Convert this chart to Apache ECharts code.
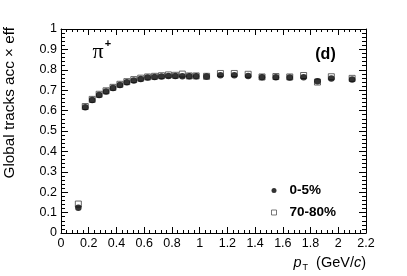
<!DOCTYPE html>
<html>
<head>
<meta charset="utf-8">
<script src="https://cdn.jsdelivr.net/npm/echarts@6/dist/echarts.min.js"></script>
<style>
html,body{margin:0;padding:0;background:#fff;}
#chart{width:407px;height:276px;}
</style>
</head>
<body>
<div id="chart"></div>
<script>
// pT bin centres (GeV/c)
var pT = [0.125, 0.175, 0.225, 0.275, 0.325, 0.375, 0.425, 0.475, 0.525, 0.575, 0.625, 0.675, 0.725, 0.775, 0.825, 0.875, 0.925, 0.975, 1.05, 1.15, 1.25, 1.35, 1.45, 1.55, 1.65, 1.75, 1.85, 1.95, 2.1];
// 0-5% centrality (filled circles)
var central = [0.124, 0.616, 0.652, 0.677, 0.694, 0.711, 0.726, 0.739, 0.748, 0.755, 0.762, 0.765, 0.767, 0.770, 0.770, 0.768, 0.768, 0.768, 0.767, 0.773, 0.773, 0.770, 0.763, 0.763, 0.762, 0.763, 0.744, 0.757, 0.752];
// 70-80% centrality (open squares)
var peripheral = [0.142, 0.620, 0.655, 0.680, 0.697, 0.714, 0.729, 0.742, 0.752, 0.759, 0.765, 0.768, 0.771, 0.775, 0.773, 0.779, 0.770, 0.770, 0.768, 0.782, 0.782, 0.778, 0.765, 0.767, 0.765, 0.772, 0.740, 0.766, 0.758];
var seriesNames = ['0-5%', '70-80%'];
var xTitle = ['p', 'T', '  (GeV/', 'c', ')'];
var yTitle = 'Global tracks acc \u00d7 eff';
var particle = ['\u03c0', '+'];
var panelLabel = '(d)';

function pairs(xs, ys) { return xs.map(function (x, i) { return [x, ys[i]]; }); }

var FONT = 'Liberation Sans, Arial, Helvetica, sans-serif';
var chart = echarts.init(document.getElementById('chart'), null, {renderer: 'canvas'});

function xAx(pos, showLabels) {
  return {
    type: 'value', position: pos, min: 0, max: 2.2, interval: 0.2,
    axisLine: {show: true, onZero: false, lineStyle: {color: '#000', width: 1}},
    axisTick: {show: true, inside: true, length: 6, lineStyle: {color: '#000'}},
    minorTick: {show: true, splitNumber: 5, length: 3, lineStyle: {color: '#000'}},
    splitLine: {show: false},
    axisLabel: {show: showLabels, color: '#000', fontFamily: FONT, fontSize: 12.5, margin: 4, showMaxLabel: true, showMinLabel: true}
  };
}
function yAx(pos, showLabels) {
  return {
    type: 'value', position: pos, min: 0, max: 1, interval: 0.1,
    axisLine: {show: true, onZero: false, lineStyle: {color: '#000', width: 1}},
    axisTick: {show: true, inside: true, length: 7, lineStyle: {color: '#000'}},
    minorTick: {show: true, splitNumber: 5, length: 4, lineStyle: {color: '#000'}},
    splitLine: {show: false},
    axisLabel: {show: showLabels, color: '#000', fontFamily: FONT, fontSize: 12.5, margin: 4, showMaxLabel: true, showMinLabel: true}
  };
}

var option = {
  animation: false,
  backgroundColor: '#fff',
  grid: {left: 61, right: 41, top: 29, bottom: 43},
  xAxis: [xAx('bottom', true), xAx('top', false)],
  yAxis: [yAx('left', true), yAx('right', false)],
  legend: {
    data: [
      {name: seriesNames[0], icon: 'circle', itemStyle: {color: '#000'}},
      {name: seriesNames[1], icon: 'rect', itemStyle: {color: '#fff', borderColor: '#555', borderWidth: 1}}
    ],
    orient: 'vertical', left: 266, top: 178,
    itemWidth: 5, itemHeight: 5, itemGap: 7,
    textStyle: {color: '#000', fontFamily: FONT, fontWeight: 'bold', fontSize: 13.5, lineHeight: 15, padding: [0, 0, 0, 8]}
  },
  series: [
    {
      name: seriesNames[1], type: 'scatter', symbol: 'rect', symbolSize: 6,
      itemStyle: {color: '#fff', borderColor: '#444', borderWidth: 1},
      data: pairs(pT, peripheral), z: 2
    },
    {
      name: seriesNames[0], type: 'scatter', symbol: 'circle', symbolSize: 6.5,
      itemStyle: {color: '#000'},
      data: pairs(pT, central), z: 3
    }
  ],
  graphic: [
    {
      type: 'text', x: 10, y: 27, rotation: Math.PI / 2,
      style: {text: yTitle, font: '15.3px ' + FONT, fill: '#000', align: 'right', textAlign: 'right', verticalAlign: 'middle', textVerticalAlign: 'middle'}
    },
    {
      type: 'text', x: 366, y: 263,
      style: {
        text: '{i|' + xTitle[0] + '}{s|' + xTitle[1] + '}{n|' + xTitle[2] + '}{i|' + xTitle[3] + '}{n|' + xTitle[4] + '}',
        align: 'right', textAlign: 'right', verticalAlign: 'middle', textVerticalAlign: 'middle',
        fill: '#000',
        rich: {
          i: {fontFamily: FONT, fontSize: 14.5, fontStyle: 'italic', fill: '#000'},
          n: {fontFamily: FONT, fontSize: 14.5, fill: '#000'},
          s: {fontFamily: FONT, fontSize: 9, fill: '#000', padding: [10, 0, 0, 1]}
        }
      }
    },
    {
      type: 'text', x: 98, y: 52,
      style: {text: particle[0], font: '22px Liberation Serif, Times New Roman, serif', fill: '#000', align: 'center', textAlign: 'center', verticalAlign: 'middle', textVerticalAlign: 'middle'}
    },
    {
      type: 'text', x: 108, y: 44,
      style: {text: particle[1], font: 'bold 11px ' + FONT, fill: '#000', align: 'center', textAlign: 'center', verticalAlign: 'middle', textVerticalAlign: 'middle'}
    },
    {
      type: 'text', x: 325.5, y: 55,
      style: {text: panelLabel, font: 'bold 16px ' + FONT, fill: '#000', align: 'center', textAlign: 'center', verticalAlign: 'middle', textVerticalAlign: 'middle'}
    }
  ]
};
chart.setOption(option);
</script>
</body>
</html>
